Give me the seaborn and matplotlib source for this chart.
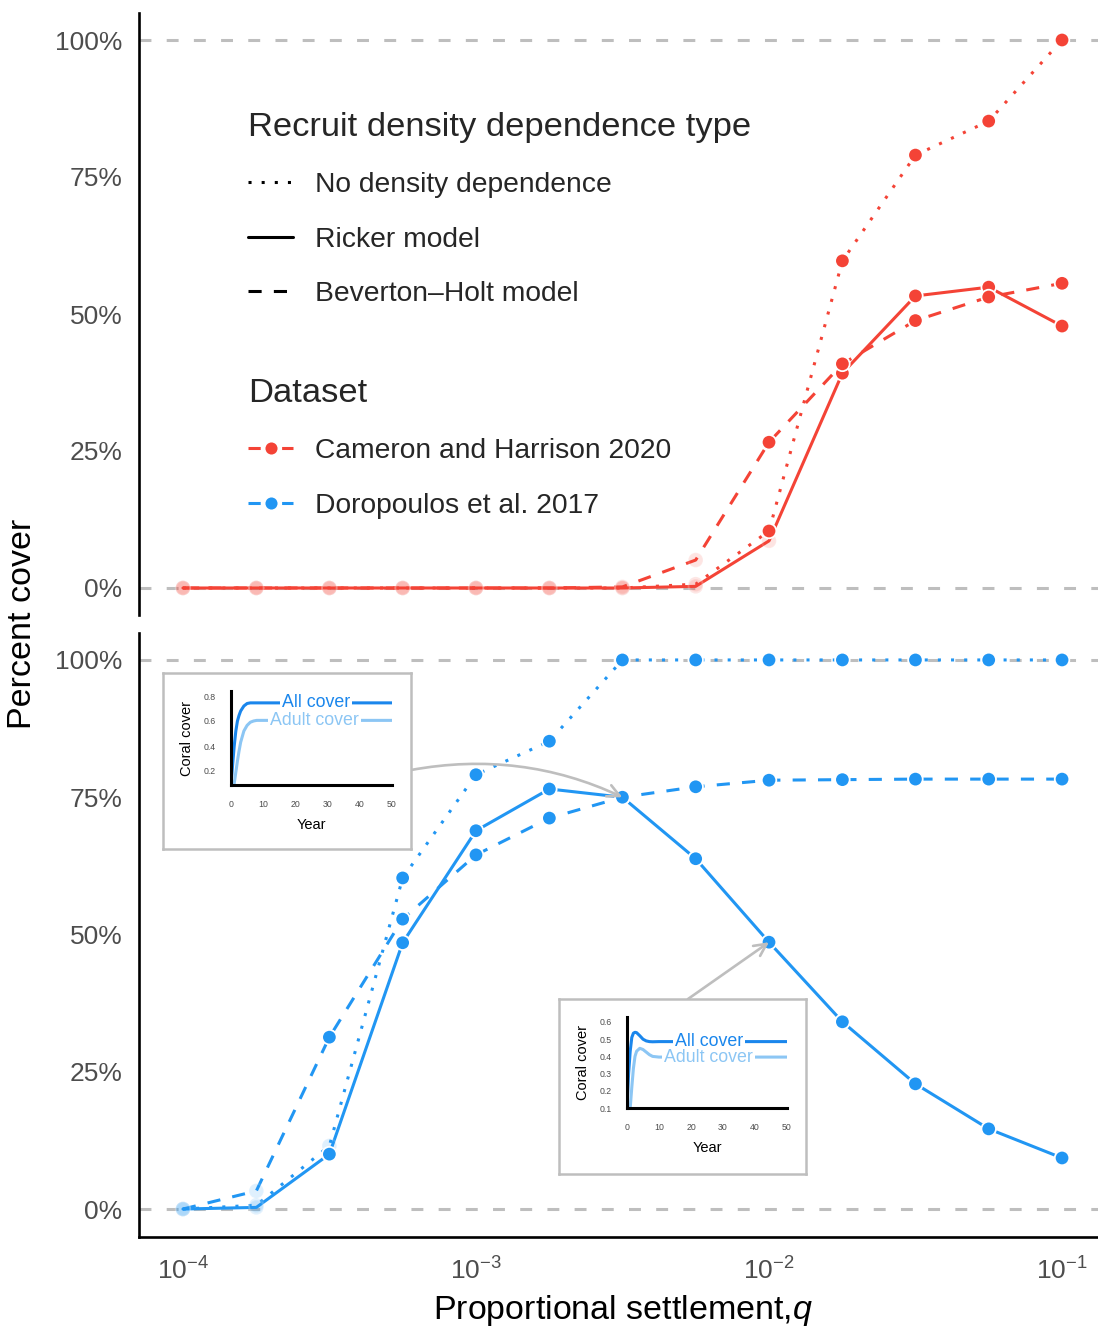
import matplotlib
matplotlib.use("Agg")
import matplotlib.pyplot as plt
import matplotlib.ticker as mticker
from matplotlib.lines import Line2D
import pandas as pd
import seaborn as sns

# ---------------------------------------------------------------- data
settlement = [1.00e-4, 1.78e-4, 3.16e-4, 5.62e-4, 1.00e-3, 1.78e-3, 3.16e-3,
              5.62e-3, 1.00e-2, 1.78e-2, 3.16e-2, 5.62e-2, 1.00e-1]

density_types = ["No density dependence", "Ricker model", "Beverton\u2013Holt model"]
datasets = ["Cameron and Harrison 2020", "Doropoulos et al. 2017"]

# equilibrium percent cover
cameron_none = [0, 0, 0, 0, 0, 0, 0, 0.7, 10.4, 59.7, 79.0, 85.2, 100]
cameron_ricker = [0, 0, 0, 0, 0, 0, 0, 0.3, 8.6, 39.2, 53.3, 54.9, 47.8]
cameron_bh = [0, 0, 0, 0, 0, 0, 0.2, 5.1, 26.6, 40.9, 48.8, 53.1, 55.6]

doro_none = [0, 0.7, 11.5, 60.3, 79.1, 85.2, 100, 100, 100, 100, 100, 100, 100]
doro_ricker = [0, 0.3, 10.0, 48.5, 68.9, 76.5, 75.0, 63.8, 48.6, 34.1, 22.8, 14.6, 9.3]
doro_bh = [0, 3.3, 31.3, 52.8, 64.5, 71.2, 75.0, 76.9, 78.1, 78.2, 78.3, 78.3, 78.3]

# runs where the coral population does not establish (drawn faded)
cameron_none_faded = [1, 1, 1, 1, 1, 1, 1, 1, 0, 0, 0, 0, 0]
cameron_ricker_faded = [1, 1, 1, 1, 1, 1, 1, 1, 1, 0, 0, 0, 0]
cameron_bh_faded = [1, 1, 1, 1, 1, 1, 1, 1, 0, 0, 0, 0, 0]
doro_none_faded = [1, 1, 1, 0, 0, 0, 0, 0, 0, 0, 0, 0, 0]
doro_ricker_faded = [1, 1, 0, 0, 0, 0, 0, 0, 0, 0, 0, 0, 0]
doro_bh_faded = [1, 1, 0, 0, 0, 0, 0, 0, 0, 0, 0, 0, 0]

# coral cover trajectories for two Ricker runs (Doropoulos et al. 2017)
years = [0, 0.5, 1, 1.5, 2, 2.5, 3, 4, 5, 6, 7, 8, 10, 20, 30, 40, 50]
run_a_all = [0.09, 0.25, 0.40, 0.52, 0.60, 0.645, 0.68, 0.72, 0.74, 0.745, 0.745,
             0.745, 0.745, 0.745, 0.745, 0.745, 0.745]
run_a_adult = [0.05, 0.06, 0.10, 0.19, 0.28, 0.36, 0.43, 0.52, 0.565, 0.59, 0.60,
               0.605, 0.605, 0.605, 0.605, 0.605, 0.605]
run_b_all = [0.10, 0.30, 0.43, 0.51, 0.535, 0.54, 0.538, 0.52, 0.50, 0.49, 0.486,
             0.485, 0.486, 0.486, 0.486, 0.486, 0.486]
run_b_adult = [0.05, 0.06, 0.10, 0.22, 0.33, 0.40, 0.43, 0.447, 0.44, 0.425, 0.41,
               0.40, 0.396, 0.396, 0.396, 0.396, 0.396]

# ---------------------------------------------------------------- styles
palette = {datasets[0]: "#F44336", datasets[1]: "#2196F3"}
dash_map = {density_types[0]: (1, 3.3), density_types[1]: "", density_types[2]: (4.3, 4)}
ls_map = {density_types[0]: (0, (1, 3.3)), density_types[1]: "-",
          density_types[2]: (0, (4.3, 4))}
all_col, adult_col = "#1A86EC", "#8CC6F4"
ref_grey = "#BEBEBE"
tick_grey = "#4D4D4D"

sns.set_theme(style="white")
plt.rcParams["font.family"] = ["Liberation Sans", "DejaVu Sans"]
plt.rcParams["mathtext.fontset"] = "custom"
plt.rcParams["mathtext.rm"] = "Liberation Sans"
plt.rcParams["mathtext.it"] = "Liberation Sans:italic"

rows = []
for ds, groups in [
    (datasets[0], [(cameron_none, cameron_none_faded), (cameron_ricker, cameron_ricker_faded),
                   (cameron_bh, cameron_bh_faded)]),
    (datasets[1], [(doro_none, doro_none_faded), (doro_ricker, doro_ricker_faded),
                   (doro_bh, doro_bh_faded)]),
]:
    for dtype, (vals, faded) in zip(density_types, groups):
        for q, v, f in zip(settlement, vals, faded):
            rows.append({"q": q, "cover": v / 100, "dataset": ds,
                         "density": dtype, "faded": f})
df = pd.DataFrame(rows)

W, H = 1098, 1326
fig = plt.figure(figsize=(W / 100, H / 100), dpi=100)


def fbox(left, top, right, bottom):
    return [left / W, 1 - bottom / H, (right - left) / W, (bottom - top) / H]


ax_top = fig.add_axes(fbox(139, 12.6, 1106, 615.4))
ax_bot = fig.add_axes(fbox(139, 632.5, 1106, 1236.5))

for ax, ds in [(ax_top, datasets[0]), (ax_bot, datasets[1])]:
    ax.set_xscale("log")
    ax.set_xlim(10 ** -4.15, 10 ** -0.85)
    ax.set_ylim(-0.05, 1.05)
    for yv in (0, 1):
        ax.axhline(yv, color=ref_grey, lw=2.2, ls=(0, (3.9, 5)), zorder=1)
    d = df[df.dataset == ds]
    sns.lineplot(data=d, x="q", y="cover", hue="dataset", style="density",
                 palette=palette, dashes=dash_map, style_order=density_types,
                 estimator=None, lw=2.2, legend=False, ax=ax, zorder=2)
    for flag, alpha in [(1, 0.14), (0, 1.0)]:
        sub = d[d.faded == flag]
        sns.scatterplot(data=sub, x="q", y="cover", hue="dataset", palette=palette,
                        s=110, edgecolor="white", linewidth=1.3, alpha=alpha,
                        legend=False, ax=ax, zorder=3)
    ax.set_yticks([0, 0.25, 0.5, 0.75, 1.0])
    ax.yaxis.set_major_formatter(mticker.PercentFormatter(xmax=1, decimals=0))
    ax.set_ylabel("")
    ax.set_xlabel("")
    ax.minorticks_off()
    for side in ("top", "right"):
        ax.spines[side].set_visible(False)
    ax.spines["left"].set_linewidth(1.9)
    ax.spines["left"].set_color("black")
    ax.tick_params(axis="both", which="major", length=4.8, width=1.9, color="black",
                   labelcolor=tick_grey, labelsize=19, pad=7)
    ax.tick_params(axis="x", which="minor", bottom=False)

ax_top.spines["bottom"].set_visible(False)
ax_top.tick_params(axis="x", bottom=False, labelbottom=False)

ax_bot.spines["bottom"].set_linewidth(1.9)
ax_bot.spines["bottom"].set_color("black")
ax_bot.xaxis.set_major_locator(mticker.FixedLocator([1e-4, 1e-3, 1e-2, 1e-1]))
ax_bot.xaxis.set_major_formatter(mticker.FixedFormatter(
    [r"$10^{-4}$", r"$10^{-3}$", r"$10^{-2}$", r"$10^{-1}$"]))
ax_bot.xaxis.set_minor_locator(mticker.NullLocator())
ax_bot.tick_params(axis="x", pad=10.5)
ax_bot.set_xlabel(r"Proportional settlement,$q$", fontsize=24.5, labelpad=6,
                  color="black")

fig.text(23 / W, 1 - 624 / H, "Percent cover", rotation=90, ha="center",
         va="center", fontsize=24.5, color="black")

# ---------------------------------------------------------------- legends
leg_kw = dict(loc="upper left", bbox_transform=fig.transFigure, frameon=False,
              fontsize=20.3, title_fontsize=24.8, handlelength=1.6, handletextpad=0.78,
              labelspacing=1.02, borderpad=0, borderaxespad=0, alignment="left")
ltype_handles = [Line2D([], [], color="black", lw=2.2, ls=ls_map[d]) for d in density_types]
leg1 = ax_top.legend(handles=ltype_handles, labels=density_types,
                     title="Recruit density dependence type",
                     bbox_to_anchor=(248 / W, 1 - 112 / H), **leg_kw)
ax_top.add_artist(leg1)
ds_handles = [Line2D([], [], color=palette[ds], lw=2.2, ls=(0, (4, 7)), marker="o",
                     markersize=10, markeredgecolor="white", markeredgewidth=1.3)
              for ds in datasets]
leg2 = ax_top.legend(handles=ds_handles, labels=datasets, title="Dataset",
                     bbox_to_anchor=(248 / W, 1 - 378 / H), numpoints=1, **leg_kw)

# ---------------------------------------------------------------- arrows to insets
arrow_kw = dict(arrowstyle="->", color=ref_grey, lw=1.9, shrinkA=0, shrinkB=0,
                mutation_scale=22)
ax_bot.annotate("", xy=(settlement[6], doro_ricker[6] / 100), xycoords="data",
                xytext=(411, H - 770), textcoords="figure pixels",
                arrowprops=dict(connectionstyle="arc3,rad=-0.16", **arrow_kw), zorder=4)
ax_bot.annotate("", xy=(settlement[8], doro_ricker[8] / 100), xycoords="data",
                xytext=(688, H - 999), textcoords="figure pixels",
                arrowprops=dict(connectionstyle="arc3,rad=0", **arrow_kw), zorder=4)


# ---------------------------------------------------------------- insets
def draw_inset(box, inner, all_vals, adult_vals, ylim, yticks, ytick_labels,
               all_pos, adult_pos):
    bx = fig.add_axes(box)
    bx.set_xticks([])
    bx.set_yticks([])
    bx.set_facecolor("white")
    for sp in bx.spines.values():
        sp.set_visible(True)
        sp.set_color(ref_grey)
        sp.set_linewidth(1.8)
    ix = fig.add_axes(inner)
    ix.set_facecolor("none")
    traj = pd.DataFrame({"year": years * 2, "cover": all_vals + adult_vals,
                         "kind": ["All cover"] * len(years) + ["Adult cover"] * len(years)})
    sns.lineplot(data=traj, x="year", y="cover", hue="kind",
                 palette={"All cover": all_col, "Adult cover": adult_col},
                 lw=2.2, ax=ix, zorder=1, legend=False)
    # white gaps in the lines behind each label, then the labels on top
    for (x, y, txt, col) in [(adult_pos[0], adult_pos[1], "Adult cover", adult_col),
                             (all_pos[0], all_pos[1], "All cover", all_col)]:
        ix.text(x, y, txt, color="none", fontsize=12.8, ha="center", va="center",
                zorder=2, bbox=dict(boxstyle="square,pad=0.12", fc="white", ec="none"))
        ix.text(x, y, txt, color=col, fontsize=12.8, ha="center", va="center", zorder=3)
    ix.set_xlim(0, 50)
    ix.set_ylim(*ylim)
    ix.set_xticks([0, 10, 20, 30, 40, 50])
    ix.set_yticks(yticks)
    ix.set_yticklabels(ytick_labels)
    for side in ("top", "right"):
        ix.spines[side].set_visible(False)
    for side in ("left", "bottom"):
        ix.spines[side].set_color("black")
        ix.spines[side].set_linewidth(2.2)
    ix.tick_params(axis="both", length=3, width=2.0, color="#333333",
                   labelcolor=tick_grey, labelsize=6.3)
    ix.tick_params(axis="y", pad=8)
    ix.tick_params(axis="x", pad=8)
    ix.set_xlabel("Year", fontsize=10.5, labelpad=6, color="black")
    ix.set_ylabel("Coral cover", fontsize=10.5, labelpad=7, color="black")


draw_inset(fbox(163, 673, 411, 849), fbox(231, 691, 392, 785), run_a_all, run_a_adult,
           (0.088, 0.84), [0.2, 0.4, 0.6, 0.8], ["0.2", "0.4", "0.6", "0.8"],
           (26.4, 0.745), (25.9, 0.605))
draw_inset(fbox(559, 999, 806, 1174), fbox(627, 1017, 787, 1108), run_b_all, run_b_adult,
           (0.1, 0.629), [0.1, 0.2, 0.3, 0.4, 0.5, 0.6],
           ["0.1", "0.2", "0.3", "0.4", "0.5", "0.6"],
           (25.7, 0.486), (25.6, 0.396))

fig.savefig("out.png", dpi=100)
